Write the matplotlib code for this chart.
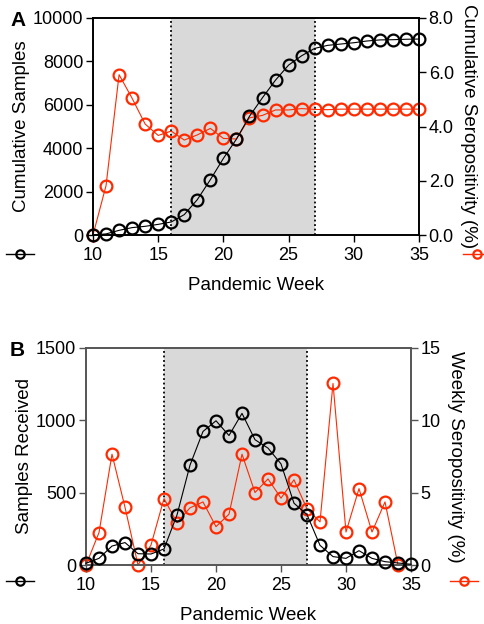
import numpy as np
import matplotlib
matplotlib.use("Agg")
import matplotlib.pyplot as plt
from matplotlib.lines import Line2D

plt.rcParams['font.family'] = ['Liberation Sans', 'DejaVu Sans']

# data
weeks = list(range(10, 36))
cum_samples = [0, 50, 215, 340, 400, 490, 600, 940, 1630, 2550, 3530, 4420, 5470,
               6330, 7140, 7830, 8260, 8600, 8740, 8800, 8860, 8940, 8990, 9000, 9020, 9030]
cum_sero = [0.0, 1.82, 5.91, 5.04, 4.09, 3.67, 3.83, 3.50, 3.69, 3.93, 3.56, 3.54, 4.32,
            4.41, 4.61, 4.61, 4.66, 4.63, 4.62, 4.64, 4.64, 4.64, 4.64, 4.64, 4.64, 4.64]
weekly_samples = [12, 46, 131, 155, 78, 76, 111, 346, 690, 923, 997, 895, 1048,
                  866, 808, 699, 427, 348, 136, 58, 46, 99, 46, 23, 14, 5]
weekly_weeks = list(range(10, 35))
weekly_sero = [0.0, 2.24, 7.66, 3.99, 0.0, 1.38, 4.59, 2.93, 3.95, 4.36, 2.65, 3.51, 7.66,
               5.01, 5.95, 4.62, 5.89, 3.88, 2.98, 12.55, 2.28, 5.28, 2.28, 4.36, 0.0]
surge = (16, 27)

RED = '#ff2a00'
W, H = 485, 624
fig = plt.figure(figsize=(W / 100, H / 100), dpi=100)

FS = 13
LFS = 13.5
mk = dict(marker='o', markersize=8.5, markerfacecolor='none', markeredgewidth=1.6,
          linewidth=0.8, clip_on=False)


def panel(rect, left_y, right_y, ylim_l, ylim_r, lticks, rticks, rfmt, llabel, rlabel,
          letter, spine_col, xw_l, xw_r, leg_l, leg_r):
    ax = fig.add_axes(rect)
    ax2 = ax.twinx()
    # shading + red series live on the lower axes, black series on top
    ax2.axvspan(*surge, color='#d9d9d9', lw=0, zorder=0)
    for s in surge:
        ax2.axvline(s, color='black', ls=(0, (1, 1.5)), lw=1.3, zorder=1)
    ax2.plot(xw_r, right_y, color=RED, zorder=3, **mk)
    ax.plot(xw_l, left_y, color='black', zorder=4, **mk)
    ax.set_zorder(ax2.get_zorder() + 1)
    ax.patch.set_visible(False)

    ax.set_xlim(10, 35)
    ax.set_ylim(*ylim_l)
    ax.set_yticks(lticks)
    ax.set_xticks(range(10, 36, 5))
    ax.set_ylabel(llabel, fontsize=LFS, labelpad=2)
    ax.set_xlabel('Pandemic Week', fontsize=LFS, labelpad=9)
    ax2.set_ylim(*ylim_r)
    ax2.set_yticks(rticks)
    ax2.set_yticklabels([rfmt.format(t) for t in rticks])
    ax2.set_ylabel(rlabel, fontsize=LFS, rotation=-90, labelpad=17)
    for a in (ax, ax2):
        a.tick_params(labelsize=FS, length=5, width=1, colors='black', direction='out', pad=2)
        for sp in a.spines.values():
            sp.set_color(spine_col)
            sp.set_linewidth(1.2)
        a.tick_params(color=spine_col)
    ax.tick_params(axis='x', pad=4)
    fig.text(10 / W, rect[1] + rect[3] + 0.012, letter, fontsize=15,
             fontweight='bold', va='top')
    hk = dict(marker='o', markersize=6, markerfacecolor='none', markeredgewidth=1.6,
              linewidth=1)
    for col, pos in ((RED, leg_r), ('black', leg_l)):
        fig.legend(handles=[Line2D([], [], color=col, **hk)], labels=[''], frameon=False,
                   loc='center', bbox_to_anchor=pos, handlelength=2,
                   handletextpad=0, borderpad=0, borderaxespad=0)
    return ax


panel([93 / W, 1 - 235 / H, 326 / W, 217 / H], cum_samples, cum_sero, (0, 10000), (0, 8),
      [0, 2000, 4000, 6000, 8000, 10000], [0, 2, 4, 6, 8], '{:.1f}',
      'Cumulative Samples', 'Cumulative Seropositivity (%)', 'A', 'black', weeks, weeks,
      (20 / W, 1 - 255 / H), (477 / W, 1 - 255 / H))

panel([86 / W, 1 - 565 / H, 325 / W, 217 / H], weekly_samples, weekly_sero, (0, 1500), (0, 15),
      [0, 500, 1000, 1500], [0, 5, 10, 15], '{:.0f}',
      'Samples Received', 'Weekly Seropositivity (%)', 'B', '#555555', weeks, weekly_weeks,
      (20 / W, 1 - 582 / H), (464 / W, 1 - 582 / H))

fig.savefig('out.png', dpi=100)
